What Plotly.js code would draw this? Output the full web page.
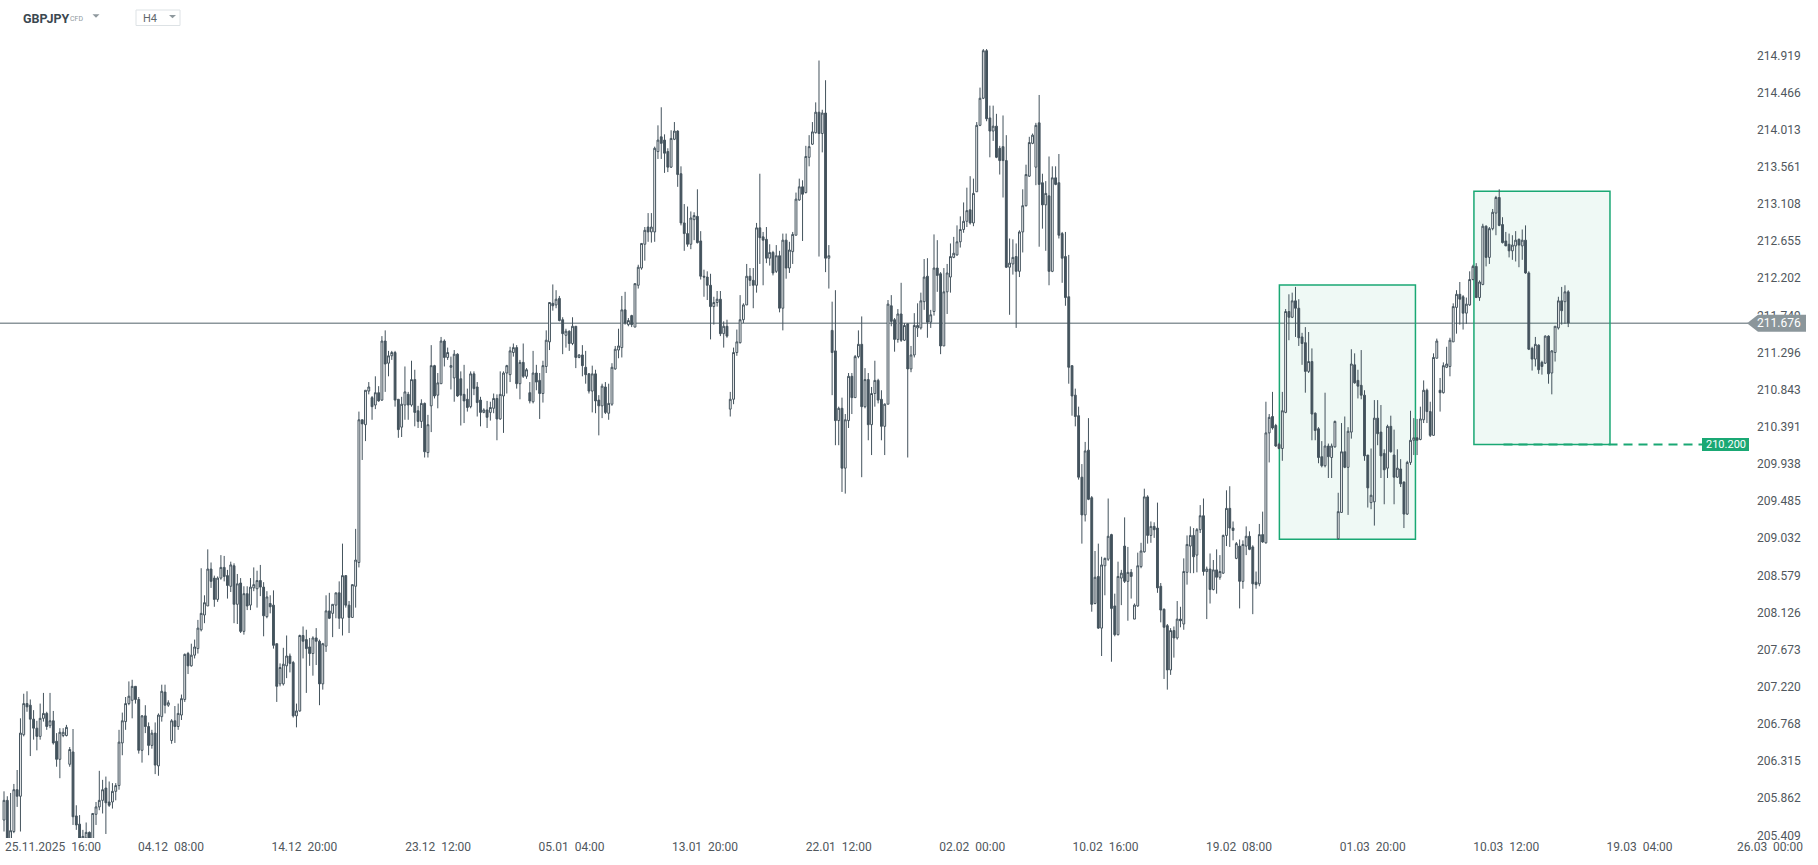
<!DOCTYPE html>
<html>
<head>
<meta charset="utf-8">
<script src="https://cdn.plot.ly/plotly-3.0.1.min.js"></script>
<style>
html,body{margin:0;padding:0;background:#ffffff;}
#chart{width:1818px;height:865px;}
</style>
</head>
<body>
<div id="chart"></div>
<script>
// ---------------- DATA ----------------
const symbol = 'GBPJPY';
const assetClass = 'CFD';
const timeframe = 'H4';

const openP = [
205.62,205.86,205.38,205.48,205.99,205.91,206.66,207.04,207.02,206.85,
206.74,206.64,206.86,206.92,206.77,206.83,206.58,206.36,206.65,206.65,
206.30,206.45,205.67,205.57,205.40,205.40,205.47,205.39,205.69,205.78,
205.86,206.01,205.84,205.84,205.97,206.04,206.56,206.82,207.04,207.08,
207.25,207.09,206.47,206.89,206.76,206.53,206.68,206.28,206.88,207.18,
207.02,206.59,206.83,206.76,206.90,207.09,207.65,207.50,207.63,207.71,
207.94,208.12,208.23,208.68,208.57,208.31,208.57,208.70,208.60,208.47,
208.72,208.25,208.51,207.92,208.38,208.24,208.45,208.44,208.54,208.46,
208.10,208.26,208.24,207.77,207.28,207.28,207.50,207.62,207.54,206.89,
206.95,207.87,207.82,207.73,207.65,207.84,207.80,207.28,207.74,208.17,
208.14,208.24,208.39,208.08,208.60,208.24,208.09,208.47,208.76,210.50,
210.44,210.85,210.77,210.68,210.83,210.74,211.46,211.19,211.28,211.32,
210.75,210.41,210.68,210.81,210.68,210.99,210.61,210.48,210.70,210.10,
210.67,211.16,210.80,210.94,211.46,211.26,211.14,211.01,211.30,211.00,
210.81,210.75,210.66,211.06,210.90,210.74,210.59,210.62,210.59,210.64,
210.76,210.51,210.79,211.07,211.05,211.32,211.38,210.94,211.20,211.03,
210.83,210.72,211.07,210.98,210.82,211.15,211.45,211.92,211.90,211.98,
211.72,211.53,211.58,211.43,211.64,211.26,211.29,211.14,211.06,210.85,
211.06,210.74,210.67,210.90,210.58,210.69,211.12,211.35,211.38,211.84,
211.66,211.77,211.63,212.14,212.35,212.64,212.85,212.79,212.79,213.77,
213.95,213.91,213.77,213.58,213.92,214.02,213.50,212.90,212.77,212.64,
212.94,212.98,212.68,212.25,212.24,212.14,211.88,211.93,211.97,211.55,
211.64,210.63,210.75,211.32,211.44,211.72,211.90,212.25,212.20,212.14,
212.84,212.73,212.70,212.47,212.54,212.31,212.50,211.86,212.69,212.35,
212.55,212.75,213.18,213.34,213.27,213.70,213.86,214.00,214.25,213.99,
214.24,212.47,211.59,211.34,210.49,210.64,209.91,210.49,211.03,210.77,
211.27,211.42,210.66,210.99,210.44,210.82,210.98,210.75,210.42,210.69,
211.89,211.72,211.48,211.79,211.47,211.67,211.12,211.29,211.62,211.62,
211.94,212.25,211.69,211.82,212.35,212.28,211.40,212.06,212.24,212.48,
212.51,212.67,212.82,212.92,213.06,212.90,213.28,214.09,214.42,215.00,
214.18,214.02,214.08,213.81,213.83,213.66,212.36,212.40,212.49,212.31,
212.79,213.11,213.47,213.87,213.58,214.12,213.39,213.12,213.23,212.31,
213.45,213.39,212.77,212.49,212.00,211.16,210.80,210.55,209.80,209.34,
210.13,209.55,208.26,208.59,207.96,208.72,208.80,209.10,208.23,207.88,
208.57,208.96,208.53,208.64,208.07,208.23,208.71,208.89,209.56,209.09,
209.20,209.18,208.47,208.19,207.99,207.45,207.93,207.84,208.07,208.01,
208.64,208.96,209.09,208.85,209.16,209.33,208.65,208.68,208.43,208.67,
208.58,208.63,209.09,209.42,209.18,208.81,208.96,208.53,208.96,209.08,
208.95,208.52,208.50,209.10,209.00,210.34,210.54,210.43,210.20,210.15,
210.59,211.82,211.75,211.95,211.86,211.51,211.44,211.09,211.21,210.58,
210.39,210.05,209.94,210.18,210.04,210.17,209.05,209.37,210.11,209.92,
210.35,211.17,210.98,210.92,210.80,210.07,209.49,209.50,210.52,210.35,
210.09,209.91,210.42,210.07,209.80,209.90,209.74,209.35,209.98,210.25,
210.28,210.26,210.50,210.86,210.60,210.31,211.25,210.86,210.83,211.14,
211.15,211.45,211.87,212.03,212.00,211.80,211.90,212.21,212.37,211.99,
212.15,212.86,212.48,212.83,213.02,213.21,212.88,212.68,212.64,212.56,
212.62,212.70,212.62,212.69,212.29,211.37,211.24,211.41,211.20,211.19,
211.52,211.07,211.32,211.62,211.95,211.94,212.06
];

const highP = [
205.97,205.91,205.95,206.06,206.23,206.86,207.16,207.19,207.09,206.96,
206.83,207.04,207.17,206.94,207.17,206.95,206.68,206.74,206.74,206.78,
206.51,206.73,205.80,205.68,205.50,205.59,205.48,205.70,205.84,206.22,
206.11,206.15,206.09,206.07,206.07,206.72,206.93,207.12,207.31,207.33,
207.25,207.12,206.90,207.02,206.81,206.72,206.81,206.92,207.27,207.27,
207.08,206.85,207.01,207.04,207.15,207.65,207.67,207.77,207.82,208.06,
208.69,208.36,208.92,208.76,208.60,208.59,208.85,208.84,208.67,208.77,
208.75,208.62,208.57,208.47,208.47,208.57,208.70,208.66,208.73,208.52,
208.41,208.36,208.42,207.77,207.53,207.72,207.87,207.65,207.56,207.04,
207.88,207.98,207.94,207.84,207.86,207.96,207.82,207.78,208.36,208.39,
208.25,208.39,208.53,208.99,208.60,208.29,208.49,209.17,210.60,210.50,
210.86,210.96,210.79,211.03,210.91,211.52,211.59,211.34,211.34,211.34,
210.75,210.78,211.15,210.84,211.22,211.11,210.67,210.75,210.71,210.56,
211.41,211.17,211.07,211.51,211.48,211.38,211.27,211.35,211.31,211.09,
211.17,210.88,211.09,211.09,210.96,210.78,210.64,210.73,210.72,210.82,
210.81,211.09,211.09,211.17,211.39,211.43,211.41,211.23,211.43,211.13,
210.96,211.34,211.17,211.07,211.22,211.59,211.93,212.15,212.08,212.01,
211.75,211.61,211.59,211.75,211.64,211.30,211.41,211.34,211.07,211.16,
211.11,210.80,210.94,210.96,210.94,211.19,211.40,211.61,212.01,212.06,
211.74,211.78,212.16,212.39,212.65,212.85,213.02,213.02,213.83,214.09,
214.31,213.98,213.81,214.03,214.13,214.03,213.59,213.13,213.10,213.04,
213.03,213.31,212.80,212.33,212.31,212.28,212.00,212.07,212.07,211.70,
211.72,210.84,211.38,211.60,212.02,211.92,212.40,212.35,212.35,212.90,
213.50,212.79,212.85,212.64,212.56,212.63,212.56,212.77,212.77,212.67,
212.79,213.27,213.44,213.42,213.84,213.97,214.13,214.37,214.88,214.28,
214.64,212.63,211.94,212.08,210.66,210.77,210.57,211.07,211.07,211.29,
211.59,211.76,211.13,211.07,210.90,211.22,211.00,210.86,210.70,211.96,
212.02,211.74,211.85,212.17,211.68,211.67,211.40,211.80,211.92,212.05,
212.46,212.47,211.84,212.76,212.69,212.30,212.35,212.40,212.65,212.73,
212.87,212.98,213.15,213.33,213.47,213.44,214.13,214.55,215.02,215.02,
214.33,214.33,214.23,213.84,214.21,213.97,212.71,212.70,212.65,212.81,
213.31,213.61,213.95,213.99,214.12,214.46,213.50,213.41,213.71,213.59,
213.59,213.74,212.79,212.79,212.51,211.16,210.88,210.66,209.96,210.23,
210.52,209.57,208.90,208.99,208.83,208.82,209.54,209.11,208.38,208.77,
208.67,209.31,208.95,208.68,208.26,208.88,209.00,209.66,209.58,209.26,
209.25,209.49,208.51,208.20,208.01,207.96,207.98,208.29,208.22,208.81,
209.09,209.20,209.18,209.18,209.46,209.54,208.71,208.87,208.79,208.92,
208.85,209.10,209.64,209.69,209.26,209.01,209.04,209.03,209.20,209.14,
208.97,208.65,209.23,209.38,210.72,210.57,210.84,210.45,210.22,210.84,
211.85,212.03,212.05,212.12,211.97,211.56,211.63,211.57,211.37,210.59,
210.41,210.24,210.83,210.21,210.21,210.49,209.61,210.46,210.54,210.41,
211.36,211.31,211.11,211.35,210.86,210.07,210.15,210.74,210.74,210.68,
210.14,210.44,210.55,210.38,210.14,210.02,209.75,210.00,210.61,210.52,
210.51,210.66,210.98,210.88,210.72,211.31,211.49,211.01,211.20,211.39,
211.50,211.92,212.08,212.18,212.02,211.99,212.31,212.39,212.41,212.20,
212.89,212.87,212.85,213.07,213.23,213.31,212.97,212.79,212.77,212.75,
212.80,212.71,212.82,212.87,212.31,211.39,211.51,211.42,211.22,211.53,
211.53,211.35,211.64,212.00,212.12,212.14,212.08
];

const lowP = [
205.48,205.34,205.34,205.46,205.78,205.48,206.64,206.94,206.40,206.60,
206.47,206.60,206.82,206.72,206.74,206.54,206.27,206.13,206.63,206.64,
206.27,205.56,205.50,205.34,205.30,205.34,205.30,205.34,205.56,205.74,
205.70,205.45,205.78,205.76,205.86,205.99,206.41,206.72,207.02,206.86,
207.04,206.43,206.32,206.68,206.41,206.49,206.18,206.16,206.82,206.92,
207.00,206.55,206.56,206.72,206.84,207.06,207.40,207.49,207.59,207.65,
207.92,208.02,208.23,208.45,208.22,208.28,208.55,208.53,208.32,208.40,
208.02,208.01,207.90,207.88,208.18,208.18,208.41,208.21,208.35,207.86,
208.08,208.14,207.71,207.06,207.25,207.26,207.35,207.42,206.87,206.75,
206.94,207.59,207.17,207.50,207.38,207.51,207.02,207.21,207.67,208.07,
207.85,208.08,207.95,207.87,208.21,207.90,208.09,208.21,208.70,210.01,
210.24,210.81,210.50,210.63,210.72,210.73,210.84,211.03,211.23,210.66,
210.28,210.29,210.50,210.50,210.66,210.42,210.40,210.40,210.04,210.04,
210.35,210.76,210.64,210.94,211.15,211.23,210.87,210.72,210.78,210.43,
210.46,210.60,210.64,210.80,210.54,210.42,210.58,210.40,210.49,210.58,
210.25,210.50,210.34,210.82,210.96,211.27,210.88,210.75,211.01,211.00,
210.70,210.70,210.86,210.51,210.71,211.07,211.35,211.83,211.86,211.70,
211.30,211.38,211.34,211.41,211.13,211.25,211.03,210.94,210.82,210.59,
210.58,210.31,210.52,210.57,210.50,210.67,211.11,211.25,211.26,211.66,
211.64,211.63,211.63,212.10,212.33,212.44,212.67,212.66,212.67,213.68,
213.68,213.51,213.52,213.57,213.91,213.34,212.87,212.56,212.61,212.58,
212.69,212.65,212.21,212.00,211.96,211.48,211.66,211.88,211.52,211.38,
211.50,210.54,210.69,211.28,211.43,211.68,211.90,212.13,211.86,212.05,
212.40,212.14,212.41,212.38,212.26,212.29,211.81,211.59,212.22,212.29,
212.40,212.75,213.17,212.68,213.26,213.59,213.85,213.99,212.49,213.76,
212.30,212.10,210.80,210.19,210.19,209.62,209.60,210.40,210.57,210.77,
211.25,209.80,210.64,210.25,210.07,210.66,210.70,210.25,210.07,210.69,
211.64,211.33,211.44,211.45,211.46,210.04,211.08,211.26,211.51,211.60,
211.84,211.50,211.62,211.77,212.06,211.30,211.40,211.79,212.05,212.47,
212.50,212.60,212.78,212.85,212.88,212.86,213.28,214.08,214.41,214.14,
213.70,213.90,213.69,213.49,213.21,212.35,211.78,212.27,211.62,212.24,
212.54,213.10,213.46,213.86,213.36,212.61,212.83,212.56,212.14,212.30,
213.36,212.71,212.17,211.89,210.94,210.55,210.42,209.77,208.99,209.26,
209.52,208.16,208.25,207.95,207.62,208.36,208.78,207.55,207.86,207.87,
208.24,208.51,208.05,208.32,208.07,208.22,208.69,208.88,208.99,209.00,
209.06,208.39,208.03,207.34,207.21,207.39,207.60,207.82,207.97,207.94,
208.49,208.63,208.63,208.64,209.12,208.60,208.07,208.26,208.42,208.38,
208.55,208.62,208.96,208.95,209.03,208.80,208.20,208.44,208.85,208.91,
208.13,208.44,208.47,209.00,208.99,209.98,210.38,210.17,210.14,210.00,
210.58,211.47,211.74,211.51,211.40,211.17,210.83,211.07,210.25,210.25,
209.97,209.92,209.92,209.79,209.79,210.16,209.04,209.37,209.91,209.34,
210.27,210.94,210.76,210.75,210.00,209.43,209.41,209.21,210.19,209.79,
209.47,209.79,210.10,209.47,209.79,209.68,209.18,209.34,209.95,210.07,
210.07,210.25,210.46,210.46,210.29,210.31,211.25,210.60,210.82,211.13,
211.03,211.45,211.55,211.66,211.60,211.67,211.89,212.20,211.99,211.95,
212.14,212.37,212.40,212.81,212.75,212.86,212.65,212.62,212.48,212.45,
212.43,212.36,212.45,212.28,211.35,211.10,211.15,211.06,211.05,211.18,
210.94,210.81,211.21,211.60,211.66,211.67,211.63
];

const closeP = [
205.86,205.38,205.49,205.99,205.91,206.68,207.04,207.00,206.85,206.74,
206.64,206.86,206.92,206.76,206.83,206.56,206.36,206.69,206.69,206.75,
206.48,205.66,205.56,205.40,205.42,205.47,205.39,205.70,205.78,205.86,
205.99,205.83,205.80,205.97,206.04,206.57,206.83,207.04,207.13,207.25,
207.09,206.47,206.89,206.76,206.53,206.68,206.29,206.90,207.19,207.02,
207.05,206.83,206.76,206.92,207.10,207.64,207.50,207.63,207.73,207.96,
208.14,208.27,208.68,208.53,208.31,208.57,208.70,208.59,208.48,208.73,
208.25,208.50,207.92,208.38,208.23,208.46,208.49,208.54,208.46,208.11,
208.34,208.22,207.75,207.25,207.48,207.52,207.62,207.53,206.89,206.95,
207.87,207.80,207.71,207.65,207.84,207.80,207.28,207.77,208.17,208.08,
208.25,208.39,208.08,208.60,208.24,208.09,208.49,208.79,210.50,210.45,
210.86,210.90,210.66,210.83,210.73,211.46,211.18,211.28,211.32,210.74,
210.38,210.69,210.84,210.68,210.99,210.59,210.48,210.70,210.11,210.44,
211.16,210.79,210.95,211.46,211.26,211.32,211.16,211.30,210.79,210.80,
210.73,210.65,211.06,210.88,210.71,210.59,210.62,210.53,210.65,210.76,
210.51,210.81,211.07,211.16,211.34,211.38,210.94,211.20,211.03,211.11,
210.73,211.07,210.96,210.82,211.16,211.47,211.93,211.89,211.97,211.71,
211.55,211.58,211.43,211.64,211.26,211.29,211.16,211.05,210.85,211.06,
210.73,210.67,210.91,210.59,210.70,211.14,211.36,211.40,211.84,211.68,
211.71,211.66,212.16,212.36,212.65,212.81,212.79,212.85,213.81,213.91,
213.87,213.75,213.58,213.93,214.02,213.49,212.90,212.77,212.64,212.96,
212.99,212.66,212.25,212.24,212.14,211.88,211.93,211.97,211.55,211.64,
211.52,210.75,211.32,211.45,211.72,211.90,212.25,212.20,212.14,212.84,
212.72,212.69,212.47,212.54,212.29,212.50,211.86,212.69,212.35,212.57,
212.76,213.19,213.34,213.25,213.71,213.83,214.01,214.25,213.99,214.24,
212.47,212.50,211.32,210.49,210.64,209.91,210.50,211.03,210.77,211.27,
211.42,210.66,210.99,210.44,210.82,210.98,210.74,210.42,210.69,211.91,
211.70,211.48,211.79,211.47,211.65,211.12,211.29,211.65,211.65,211.95,
212.24,211.69,211.78,212.35,212.26,211.40,212.06,212.29,212.49,212.53,
212.67,212.82,212.92,213.05,212.90,213.26,214.09,214.42,215.00,214.17,
214.02,214.08,213.70,213.66,213.66,212.36,212.41,212.48,212.31,212.79,
213.11,213.49,213.88,213.97,214.09,213.37,213.12,213.26,212.31,213.45,
213.37,212.75,212.47,211.99,211.14,210.79,210.54,209.80,209.34,210.12,
209.53,208.25,208.58,207.96,208.73,208.81,209.08,208.20,207.88,208.59,
208.63,208.53,208.64,208.59,208.24,208.72,208.90,209.56,209.09,209.20,
209.16,208.45,208.18,207.97,207.45,207.93,207.84,208.07,208.05,208.65,
208.98,209.09,208.83,209.16,209.33,208.65,208.68,208.43,208.67,208.58,
208.65,209.09,209.42,209.18,209.15,208.99,208.53,208.98,209.08,208.92,
208.50,208.49,209.10,209.01,210.34,210.53,210.40,210.18,210.15,210.61,
211.82,211.75,211.95,211.86,211.50,211.43,211.09,211.21,210.57,210.37,
210.04,209.94,210.18,210.05,210.18,210.48,209.38,210.11,209.92,210.36,
211.18,210.95,210.91,210.80,210.06,209.67,209.58,210.52,210.33,210.06,
209.89,210.42,210.11,209.80,209.91,209.72,209.35,209.98,210.25,210.28,
210.25,210.51,210.86,210.60,210.31,211.26,211.46,210.83,211.16,211.18,
211.47,211.88,212.03,211.97,211.80,211.91,212.21,212.37,211.99,212.18,
212.86,212.48,212.83,213.03,213.21,212.87,212.66,212.62,212.56,212.63,
212.69,212.63,212.69,212.29,211.36,211.24,211.42,211.11,211.15,211.52,
211.06,211.34,211.64,211.95,211.83,212.06,211.68
];

// time-axis labels and the candle index they fall on
const tickLabels = ['25.11.2025  16:00','04.12  08:00','14.12  20:00','23.12  12:00','05.01  04:00',
  '13.01  20:00','22.01  12:00','02.02  00:00','10.02  16:00','19.02  08:00','01.03  20:00',
  '10.03  12:00','19.03  04:00','26.03  00:00'];
const tickIdx = [10.2,50.8,91.4,132.1,172.7,213.3,254.0,294.6,335.2,375.8,416.5,457.1,497.7,538.4];

// price axis labels
const priceTicks = [214.919,214.466,214.013,213.561,213.108,212.655,212.202,211.749,211.296,210.843,
  210.391,209.938,209.485,209.032,208.579,208.126,207.673,207.220,206.768,206.315,205.862,205.409];

const lastPrice = 211.676;
const targetLevel = 210.200;
// highlighted consolidation zones (candle index span, price span)
const zoneStart = [388.1, 447.3];
const zoneEnd   = [429.5, 488.7];
const zoneLow   = [209.042, 210.200];
const zoneHigh  = [212.143, 213.285];
const targetLineStart = 456.3;
const targetLineEnd = 516.7;

// ---------------- LAYOUT ----------------
const W = 1818, H = 865, ML = 0, MR = 70, MT = 0, MB = 27;
const PW = W - ML - MR, PH = H - MT - MB;
const px = v => (v - ML) / PW;
const py = v => 1 - (v - MT) / PH;

const idx = openP.map((_, i) => i);
const dark = '#44535d';
const green = '#1aa874';
const gray = '#8b969b';
const fontFam = 'Roboto, "Noto Sans", Arial, sans-serif';
const nb = s => s.replace(/ /g, '\u00a0');

const trace = {
  type: 'candlestick',
  x: idx, open: openP, high: highP, low: lowP, close: closeP,
  increasing: {line: {color: dark, width: 1}, fillcolor: '#ffffff'},
  decreasing: {line: {color: dark, width: 1}, fillcolor: dark},
  whiskerwidth: 0,
  hoverinfo: 'none',
  showlegend: false
};

const shapes = [];
for (let k = 0; k < zoneStart.length; k++) {
  shapes.push({type: 'rect', xref: 'x', yref: 'y', x0: zoneStart[k], x1: zoneEnd[k],
    y0: zoneLow[k], y1: zoneHigh[k], fillcolor: 'rgba(26,168,116,0.07)',
    line: {color: green, width: 1.5}, layer: 'below'});
}
shapes.push({type: 'line', xref: 'paper', yref: 'y', x0: 0, x1: 1, y0: lastPrice, y1: lastPrice,
  line: {color: gray, width: 1.5}, layer: 'below'});
shapes.push({type: 'line', xref: 'x', yref: 'y', x0: targetLineStart, x1: targetLineEnd,
  y0: targetLevel, y1: targetLevel, line: {color: green, width: 2, dash: '9px,6px'}, layer: 'above'});
// target label box
shapes.push({type: 'rect', xref: 'paper', yref: 'y', x0: px(1702), x1: px(1749),
  ysizemode: 'pixel', yanchor: targetLevel, y0: -6.5, y1: 6.5,
  fillcolor: green, line: {width: 0}, layer: 'above'});
// last price tag
shapes.push({type: 'path', xref: 'paper', yref: 'y', xsizemode: 'pixel', xanchor: 1,
  ysizemode: 'pixel', yanchor: lastPrice,
  path: 'M-1,0 L10,8.5 L58,8.5 L58,-8.5 L10,-8.5 Z',
  fillcolor: gray, line: {width: 0}, layer: 'above'});
// header: timeframe box & arrows
shapes.push({type: 'rect', xref: 'paper', yref: 'paper', x0: px(136), x1: px(180), y0: py(25.5), y1: py(10),
  fillcolor: '#ffffff', line: {color: '#dde2e5', width: 1}});
shapes.push({type: 'path', xref: 'paper', yref: 'paper',
  path: `M${px(92.5)},${py(14.3)} L${px(99.5)},${py(14.3)} L${px(96)},${py(17.8)} Z`,
  fillcolor: '#8f999e', line: {width: 0}});
shapes.push({type: 'path', xref: 'paper', yref: 'paper',
  path: `M${px(169)},${py(15)} L${px(176)},${py(15)} L${px(172.5)},${py(18.3)} Z`,
  fillcolor: '#8f999e', line: {width: 0}});

const axisFont = {family: fontFam, size: 12, color: '#50575d'};
const annotations = [
  {xref: 'paper', yref: 'paper', x: px(20.5), y: py(18), xanchor: 'left', yanchor: 'middle',
   text: '<b>' + symbol + '</b>', showarrow: false, font: {family: fontFam, size: 12.5, color: '#3b4850'}},
  {xref: 'paper', yref: 'paper', x: px(67.5), y: py(19.2), xanchor: 'left', yanchor: 'middle',
   text: assetClass, showarrow: false, font: {family: fontFam, size: 7, color: '#8f999e'}},
  {xref: 'paper', yref: 'paper', x: px(141), y: py(18), xanchor: 'left', yanchor: 'middle',
   text: timeframe, showarrow: false, font: {family: fontFam, size: 11, color: '#5f676c'}},
  {xref: 'paper', yref: 'paper', x: px(3), y: py(846.7), xanchor: 'left', yanchor: 'middle',
   text: nb(tickLabels[0]), showarrow: false, font: axisFont},
  {xref: 'paper', yref: 'paper', x: px(1805), y: py(846.7), xanchor: 'right', yanchor: 'middle',
   text: nb(tickLabels[tickLabels.length - 1]), showarrow: false, font: axisFont},
  {xref: 'paper', yref: 'y', x: px(1725.5), y: targetLevel, xanchor: 'center', yanchor: 'middle',
   text: targetLevel.toFixed(3), showarrow: false, font: {family: fontFam, size: 11, color: '#ffffff'}},
  {xref: 'paper', yref: 'y', x: 1, xshift: 7, y: lastPrice, xanchor: 'left', yanchor: 'middle',
   text: lastPrice.toFixed(3), showarrow: false, font: {family: fontFam, size: 12, color: '#ffffff'}}
];

const layout = {
  width: W, height: H,
  margin: {l: ML, r: MR, t: MT, b: MB, pad: 0},
  paper_bgcolor: '#ffffff', plot_bgcolor: '#ffffff',
  showlegend: false,
  boxgap: 0.2,
  font: {family: fontFam},
  xaxis: {
    type: 'linear', range: [-1.22, 530.7], fixedrange: true,
    rangeslider: {visible: false},
    showgrid: false, zeroline: false, showline: false, ticks: '',
    tickvals: tickIdx.slice(1, -1), ticktext: tickLabels.slice(1, -1).map(nb),
    tickfont: axisFont
  },
  yaxis: {
    side: 'right', range: [205.401, 215.618], fixedrange: true,
    showgrid: false, zeroline: false, showline: false, ticks: '',
    tickvals: priceTicks, ticktext: priceTicks.map(v => v.toFixed(3)),
    tickfont: axisFont, ticklabelstandoff: 8, ticklabelshift: -2
  },
  shapes: shapes,
  annotations: annotations
};

Plotly.newPlot('chart', [trace], layout, {staticPlot: true, displayModeBar: false});
</script>
</body>
</html>
